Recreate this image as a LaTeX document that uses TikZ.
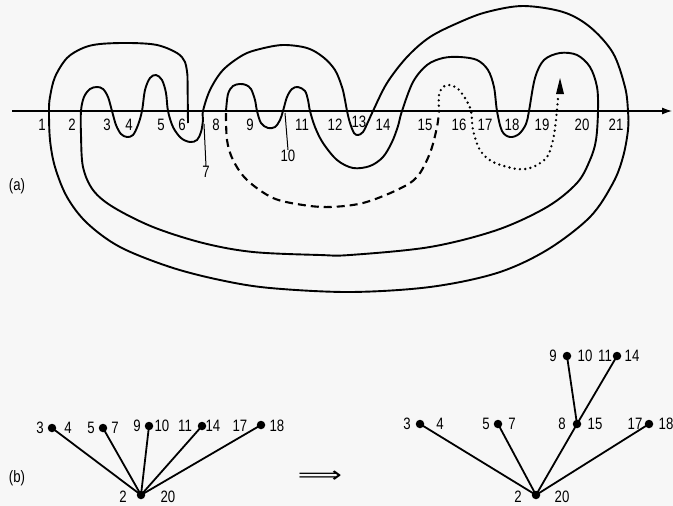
\documentclass[tikz,border=0pt]{standalone}
\usepackage{fontspec}
\setmainfont{Liberation Sans}
\newfontfamily\arrowfont{DejaVu Sans}
\usetikzlibrary{arrows.meta}
\definecolor{bg}{RGB}{247,247,247}
\begin{document}
\begin{tikzpicture}[x=1pt,y=-1pt,
  curve/.style={line width=1.9pt, line join=round},
  dashcurve/.style={line width=2.1pt, dash pattern=on 8pt off 5pt},
  dotcurve/.style={line width=2.6pt, line cap=round, dash pattern=on 0pt off 5.3pt},
  lbl/.style={font=\fontsize{16.5}{16.5}\selectfont, xscale=0.8, inner sep=0pt},
  dot/.style={circle, fill=black, inner sep=0pt, minimum size=8.5pt},
  treeedge/.style={line width=1.8pt}]
\fill[bg] (0,0) rectangle (673,506);
\useasboundingbox (0,0) rectangle (673,506);

% ---------- (a) ----------
\coordinate (axL) at (12,111);
\coordinate (axR) at (672,111);
\draw[line width=1.1pt, -{Latex[length=10pt,width=7pt]}] (axL) -- (axR);

\draw[curve] (188,123) -- plot[smooth, tension=0.55] coordinates {
(187.5,76) (185,62) (177,53) (157,45) (130,43) (100,44) (83,48) (67,58) (55,77) (50,97) (49,111)
(50,140) (55,167) (67,197) (87,223) (120,247) (170,267) (220,280) (270,288) (350,292)
(430,287) (497,273) (547,250) (590,217) (613,183) (623,157) (628,130) (628,111)
(625,87) (613,53) (590,27) (563,12) (523,6) (487,12) (460,22) (430,37) (407,57) (387,83) (373,111)
(368,122) (363,132) (358,135) (354,133) (350,123) (347,111)
(345,100) (342,87) (335,70) (323,57) (307,48) (283,45) (260,49) (243,55) (223,70) (210,90) (203,111)
(203,120) (201,132) (197,140) (190,142) (181,138) (173,127) (168,111)
(166,93) (162,80) (156,75) (150,78) (145,90) (142,111)
(138,125) (133,135) (127,137) (121,134) (116,125) (112,111)
(108,97) (103,89) (97,87) (90,89) (84,97) (81,111)
(81,135) (83,167) (93,190) (113,207) (153,227) (203,243) (253,252) (320,255) (350,255)
(430,247) (497,230) (547,207) (577,183) (590,160) (596,140) (598,111)
(597,87) (590,67) (577,55) (560,53) (544,60) (535,78) (529,111)
(526,124) (519,134) (510,137) (502,131) (497,111)
(494,87) (488,70) (477,60) (460,57) (443,58) (427,65) (413,82) (402,111)
(398,126) (392,142) (383,157) (370,166) (353,168) (337,160) (323,143) (315,127) (310,111)
(308,100) (305,91) (298,87) (292,89) (287,97) (283,111)
(280,120) (275,127) (268,128) (261,123) (257,111)
(255,100) (251,89) (246,85) (240,84) (233,86) (228,94) (226,111)};

\draw[dashcurve] plot[smooth, tension=0.55] coordinates {
(226,113) (227,140) (233,160) (247,180) (273,198) (303,205) (330,207) (363,203) (397,190) (417,177) (430,153) (437,127) (439,111)};

\draw[dotcurve] plot[smooth, tension=0.55] coordinates {
(439,111) (439,95) (443,87) (449,85) (457,88) (465,98) (471,111) (473,130) (480,150) (493,162) (517,169) (533,167) (547,157) (553,140) (556,120) (558,98)};
\fill (560,78) -- (556,94) -- (564,94) -- cycle;

% axis labels
\foreach \n/\x in {1/42,2/72,3/107,4/129,5/161,6/182,8/216,9/250,11/302,12/335,14/383,15/425,16/459,17/485,18/512,19/542,20/582,21/616}
  \node[lbl] (c\n) at (\x,125) {\n};
\node[lbl] (c13) at (359,122) {13};
\node[lbl] (c7) at (206,172) {7};
\node[lbl] (c10) at (288,156) {10};
\coordinate (t7a) at (204,124);
\coordinate (t10a) at (285,113);
\draw[line width=1pt] (t7a) -- (c7.north);
\draw[line width=1pt] (t10a) -- (c10.north);
\node[lbl] (lab-a) at (17,186) {(a)};

% ---------- (b) left ----------
\node[lbl] (lab-b) at (17,478) {(b)};
\node[font=\arrowfont\fontsize{22}{22}\selectfont, xscale=1.4, inner sep=0pt] (imp) at (320,477) {⟹};

\node[dot] (R1) at (141,495) {};
\node[dot] (A1) at (52,428) {};
\node[dot] (A2) at (103,428) {};
\node[dot] (A3) at (149,426) {};
\node[dot] (A4) at (202,426) {};
\node[dot] (A5) at (261,425) {};
\foreach \a in {A1,A2,A3,A4,A5} \draw[treeedge] (R1.center) -- (\a.center);
\node[lbl] at (40,428) {3};   \node[lbl] at (68,428) {4};
\node[lbl] at (91,428) {5};   \node[lbl] at (115,428) {7};
\node[lbl] at (137,426) {9};  \node[lbl] at (162,426) {10};
\node[lbl] at (185,426) {11}; \node[lbl] at (213,426) {14};
\node[lbl] at (240,426) {17}; \node[lbl] at (277,426) {18};
\node[lbl] at (123,497) {2};  \node[lbl] at (168,497) {20};

% ---------- (b) right ----------
\node[dot] (R2) at (536,495) {};
\node[dot] (B1) at (420,424) {};
\node[dot] (B2) at (498,424) {};
\node[dot] (B3) at (577,424) {};
\node[dot] (B4) at (649,424) {};
\node[dot] (C1) at (567,356) {};
\node[dot] (C2) at (617,356) {};
\foreach \b in {B1,B2,B3,B4} \draw[treeedge] (R2.center) -- (\b.center);
\draw[treeedge] (B3.center) -- (C1.center);
\draw[treeedge] (B3.center) -- (C2.center);
\node[lbl] at (407,424) {3};  \node[lbl] at (440,424) {4};
\node[lbl] at (486,424) {5};  \node[lbl] at (512,424) {7};
\node[lbl] at (562,424) {8};  \node[lbl] at (595,424) {15};
\node[lbl] at (635,424) {17}; \node[lbl] at (666,424) {18};
\node[lbl] at (553,356) {9};  \node[lbl] at (585,356) {10};
\node[lbl] at (605,356) {11}; \node[lbl] at (632,356) {14};
\node[lbl] at (518,497) {2};  \node[lbl] at (562,497) {20};
\end{tikzpicture}
\end{document}
